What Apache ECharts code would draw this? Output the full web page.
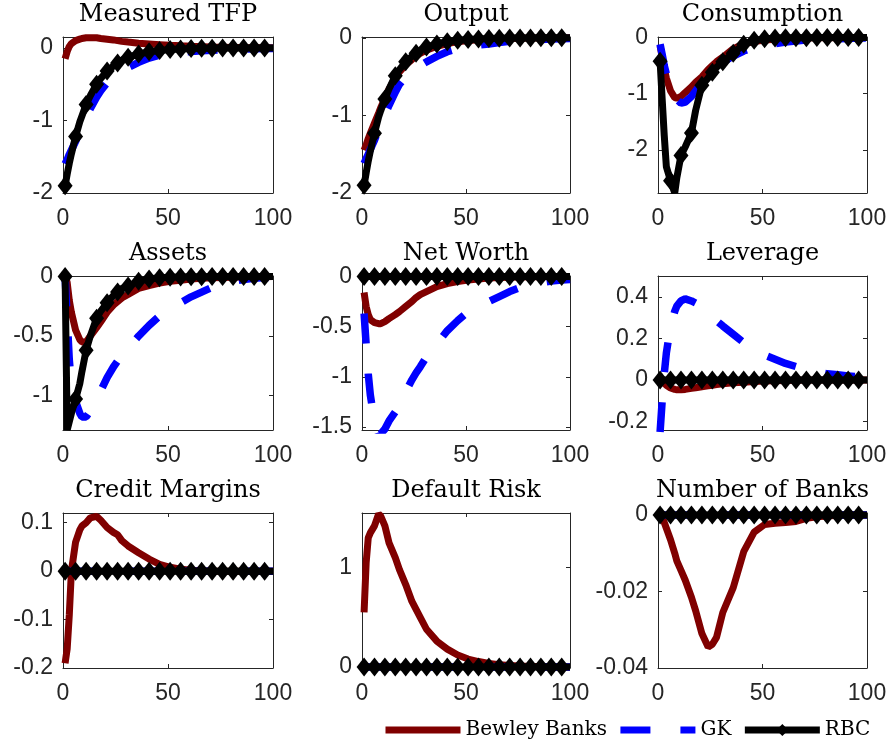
<!DOCTYPE html>
<html>
<head>
<meta charset="utf-8">
<script src="https://cdn.jsdelivr.net/npm/echarts@6/dist/echarts.min.js"></script>
<style>
html, body { margin: 0; padding: 0; background: #fff; }
#irf { width: 891px; height: 742px; }
</style>
</head>
<body>
<div id="irf"></div>
<script>
'use strict'

var periods = [1, 2, 3, 4, 6, 8, 9, 11, 13, 16, 18, 21, 24, 26, 28, 31, 36, 41, 46, 51, 56, 61, 66, 71, 76, 81, 86, 91, 96, 100];
var rbcMarkers = [1, 6, 11, 16, 21, 26, 31, 36, 41, 46, 51, 56, 61, 66, 71, 76, 81, 86, 91, 96];
var xTicks = [0, 50, 100];
var flatZero = [0, 0, 0, 0, 0, 0, 0, 0, 0, 0, 0, 0, 0, 0, 0, 0, 0, 0, 0, 0, 0, 0, 0, 0, 0, 0, 0, 0, 0, 0];

var tfpBewley = [-0.15, -0.05, 0.02, 0.06, 0.10, 0.12, 0.13, 0.14, 0.14, 0.14, 0.13, 0.12, 0.11, 0.10, 0.09, 0.08, 0.065, 0.055, 0.045, 0.035, 0.028, 0.022, 0.017, 0.012, 0.009, 0.006, 0.004, 0.003, 0.002, 0.001];
var tfpGK = [-1.60, -1.54, -1.47, -1.41, -1.29, -1.14, -1.07, -0.95, -0.84, -0.68, -0.59, -0.48, -0.40, -0.36, -0.32, -0.27, -0.20, -0.14, -0.10, -0.075, -0.06, -0.05, -0.04, -0.032, -0.025, -0.02, -0.015, -0.012, -0.01, -0.008];
var tfpRBC = [-1.90, -1.74, -1.59, -1.46, -1.22, -1.02, -0.94, -0.78, -0.66, -0.50, -0.42, -0.32, -0.25, -0.21, -0.17, -0.13, -0.085, -0.055, -0.035, -0.023, -0.015, -0.01, -0.006, -0.004, -0.003, -0.002, -0.001, -0.001, 0, 0];

var outBewley = [-1.45, -1.38, -1.30, -1.23, -1.10, -0.97, -0.90, -0.78, -0.66, -0.52, -0.44, -0.35, -0.28, -0.24, -0.20, -0.16, -0.11, -0.075, -0.05, -0.035, -0.025, -0.018, -0.012, -0.008, -0.006, -0.004, -0.003, -0.002, -0.001, 0];
var outGK = [-1.62, -1.56, -1.50, -1.44, -1.32, -1.18, -1.11, -0.99, -0.87, -0.70, -0.60, -0.50, -0.43, -0.39, -0.36, -0.31, -0.24, -0.18, -0.14, -0.11, -0.095, -0.08, -0.06, -0.045, -0.035, -0.028, -0.022, -0.017, -0.013, -0.01];
var outRBC = [-1.90, -1.74, -1.59, -1.46, -1.23, -1.02, -0.94, -0.79, -0.66, -0.49, -0.41, -0.31, -0.24, -0.20, -0.16, -0.12, -0.08, -0.05, -0.033, -0.022, -0.015, -0.01, -0.006, -0.004, -0.003, -0.002, -0.001, -0.001, 0, 0];

var consBewley = [-0.15, -0.35, -0.55, -0.72, -0.95, -1.07, -1.08, -1.05, -0.98, -0.88, -0.80, -0.70, -0.57, -0.50, -0.43, -0.35, -0.20, -0.11, -0.07, -0.045, -0.03, -0.02, -0.012, -0.008, -0.005, -0.003, -0.002, -0.001, 0, 0];
var consGK = [-0.12, -0.30, -0.50, -0.65, -0.88, -1.05, -1.10, -1.17, -1.15, -1.05, -0.95, -0.80, -0.68, -0.60, -0.53, -0.44, -0.33, -0.24, -0.18, -0.14, -0.11, -0.08, -0.06, -0.045, -0.035, -0.025, -0.02, -0.015, -0.01, -0.008];
var consRBC = [-0.42, -1.10, -1.75, -2.30, -2.55, -2.77, -2.50, -2.10, -1.95, -1.70, -1.30, -0.85, -0.72, -0.62, -0.53, -0.43, -0.28, -0.12, -0.05, -0.02, -0.01, -0.005, -0.003, -0.002, -0.001, 0, 0, 0, 0, 0];

var assetBewley = [0, -0.05, -0.20, -0.30, -0.45, -0.53, -0.55, -0.55, -0.50, -0.43, -0.38, -0.30, -0.24, -0.21, -0.18, -0.15, -0.10, -0.075, -0.055, -0.04, -0.03, -0.02, -0.015, -0.01, -0.007, -0.005, -0.003, -0.002, -0.001, 0];
var assetGK = [0, -0.35, -0.70, -0.90, -1.05, -1.15, -1.18, -1.18, -1.13, -1.02, -0.96, -0.85, -0.76, -0.71, -0.66, -0.60, -0.50, -0.41, -0.33, -0.27, -0.22, -0.17, -0.13, -0.09, -0.06, -0.04, -0.025, -0.015, -0.008, -0.005];
var assetRBC = [0, -1.29, -1.22, -1.15, -1.03, -0.90, -0.80, -0.62, -0.50, -0.35, -0.29, -0.22, -0.16, -0.13, -0.10, -0.08, -0.04, -0.02, -0.01, -0.005, -0.003, -0.002, -0.001, 0, 0, 0, 0, 0, 0, 0];

var nwBewley = [-0.16, -0.30, -0.38, -0.43, -0.46, -0.47, -0.47, -0.45, -0.42, -0.38, -0.35, -0.30, -0.25, -0.21, -0.18, -0.15, -0.10, -0.07, -0.05, -0.035, -0.025, -0.015, -0.01, -0.007, -0.005, -0.003, -0.002, -0.001, 0, 0];
var nwGK = [-0.37, -0.68, -0.97, -1.18, -1.45, -1.57, -1.57, -1.52, -1.44, -1.35, -1.28, -1.15, -1.03, -0.96, -0.90, -0.80, -0.67, -0.54, -0.44, -0.35, -0.29, -0.25, -0.20, -0.15, -0.11, -0.08, -0.06, -0.045, -0.035, -0.03];

var levBewley = [0.01, 0, -0.015, -0.025, -0.038, -0.045, -0.047, -0.047, -0.045, -0.04, -0.037, -0.032, -0.028, -0.025, -0.022, -0.018, -0.013, -0.01, -0.007, -0.005, -0.003, -0.002, -0.001, 0, 0, 0, 0, 0, 0, 0];
var levGK = [-0.25, -0.10, 0.03, 0.13, 0.26, 0.33, 0.355, 0.38, 0.39, 0.38, 0.37, 0.345, 0.32, 0.30, 0.285, 0.26, 0.22, 0.18, 0.15, 0.12, 0.10, 0.08, 0.065, 0.05, 0.04, 0.03, 0.025, 0.02, 0.015, 0.012];

var cmBewley = [-0.19, -0.16, -0.09, 0, 0.06, 0.085, 0.093, 0.10, 0.11, 0.113, 0.105, 0.09, 0.08, 0.075, 0.063, 0.052, 0.038, 0.025, 0.014, 0.008, 0.004, 0.002, 0.001, 0, 0, 0, 0, 0, 0, 0];
var drBewley = [0.55, 1.05, 1.30, 1.35, 1.42, 1.54, 1.52, 1.42, 1.25, 1.10, 0.98, 0.83, 0.66, 0.58, 0.50, 0.38, 0.26, 0.18, 0.12, 0.08, 0.055, 0.035, 0.022, 0.015, 0.01, 0.006, 0.004, 0.002, 0.001, 0];
var nbBewley = [0, -0.0005, -0.002, -0.0035, -0.0065, -0.01, -0.012, -0.0145, -0.017, -0.0215, -0.025, -0.031, -0.0345, -0.0338, -0.032, -0.0255, -0.019, -0.0096, -0.0045, -0.0025, -0.0022, -0.002, -0.0017, -0.0009, -0.0005, -0.0003, -0.0001, 0, 0, 0];

var panelTitles = ['Measured TFP', 'Output', 'Consumption', 'Assets', 'Net Worth', 'Leverage', 'Credit Margins', 'Default Risk', 'Number of Banks'];
var bewleyLines = [tfpBewley, outBewley, consBewley, assetBewley, nwBewley, levBewley, cmBewley, drBewley, nbBewley];
var gkLines = [tfpGK, outGK, consGK, assetGK, nwGK, levGK, flatZero, flatZero, flatZero];
var rbcLines = [tfpRBC, outRBC, consRBC, assetRBC, flatZero, flatZero, flatZero, flatZero, flatZero];
var yMins = [-2, -2, -2.77, -1.29, -1.53, -0.24, -0.2, -0.01, -0.04];
var yMaxs = [0.15, 0.01, 0.01, 0.005, 0.005, 0.5, 0.12, 1.55, 0.0005];
var yTicks = [
    [-2, -1, 0],
    [-2, -1, 0],
    [-2, -1, 0],
    [-1, -0.5, 0],
    [-1.5, -1, -0.5, 0],
    [-0.2, 0, 0.2, 0.4],
    [-0.2, -0.1, 0, 0.1],
    [0, 1],
    [-0.04, -0.02, 0]
];

// layout of the 3x3 panel grid (pixels)
var colLeft = [63, 362, 658];
var colWidth = [210, 208, 209];
var rowTop = [37, 276, 513];
var rowHeight = [156, 154, 155];

var axisColor = '#262626';
var tickFont = 'Liberation Sans';
var titleFont = 'DejaVu Serif';

function toPoints(vals) {
    return periods.map(function (t, i) { return [t, vals[i]]; });
}

function toMarkedPoints(vals) {
    return periods.map(function (t, i) {
        return { value: [t, vals[i]], symbol: rbcMarkers.indexOf(t) >= 0 ? 'diamond' : 'none' };
    });
}

function boxAxis(extra) {
    var a = {
        type: 'value',
        splitLine: { show: false },
        axisLine: { show: true, onZero: false, lineStyle: { color: axisColor, width: 1 } },
        axisTick: { show: true, inside: true, length: 4, lineStyle: { color: axisColor, width: 1 } },
        axisLabel: { show: false }
    };
    return Object.assign(a, extra);
}

var grids = [], xAxes = [], yAxes = [], series = [], titles = [];

panelTitles.forEach(function (name, i) {
    var col = i % 3, row = Math.floor(i / 3);
    grids.push({ left: colLeft[col], top: rowTop[row], width: colWidth[col], height: rowHeight[row] });

    titles.push({
        text: name,
        left: colLeft[col] + colWidth[col] / 2,
        top: rowTop[row] - 34,
        textAlign: 'center',
        padding: 0,
        textStyle: { fontFamily: titleFont, fontSize: 24, fontWeight: 'normal', color: '#000', lineHeight: 24 }
    });

    var xb = boxAxis({ gridIndex: i, min: 0, max: 100, position: 'bottom' });
    xb.axisTick.customValues = xTicks;
    xb.axisLabel = { show: true, customValues: xTicks, margin: 14, color: axisColor, fontFamily: tickFont, fontSize: 23 };
    var xt = boxAxis({ gridIndex: i, min: 0, max: 100, position: 'top' });
    xt.axisTick.customValues = xTicks;
    xAxes.push(xb, xt);

    var yl = boxAxis({ gridIndex: i, min: yMins[i], max: yMaxs[i], position: 'left' });
    yl.axisTick.customValues = yTicks[i];
    yl.axisLabel = {
        show: true, customValues: yTicks[i], margin: 10, color: axisColor, fontFamily: tickFont, fontSize: 23,
        formatter: function (v) { return String(v); }
    };
    var yr = boxAxis({ gridIndex: i, min: yMins[i], max: yMaxs[i], position: 'right' });
    yr.axisTick.customValues = yTicks[i];
    yAxes.push(yl, yr);

    series.push({
        name: 'Bewley Banks', type: 'line', xAxisIndex: 2 * i, yAxisIndex: 2 * i,
        data: toPoints(bewleyLines[i]), symbol: 'none', showSymbol: false,
        lineStyle: { color: '#800000', width: 7 }, itemStyle: { color: '#800000' }
    });
    series.push({
        name: 'GK', type: 'line', xAxisIndex: 2 * i, yAxisIndex: 2 * i,
        data: toPoints(gkLines[i]), symbol: 'none', showSymbol: false,
        lineStyle: { color: '#0000ff', width: 7.5, type: [30, 30] }, itemStyle: { color: '#0000ff' }
    });
    series.push({
        name: 'RBC', type: 'line', xAxisIndex: 2 * i, yAxisIndex: 2 * i,
        data: toMarkedPoints(rbcLines[i]), symbol: 'diamond', symbolSize: [15, 19],
        lineStyle: { color: '#000', width: 7 }, itemStyle: { color: '#000' }
    });
});

var irf_chart = echarts.init(document.getElementById('irf'));

var option = {
    animation: false,
    backgroundColor: '#fff',
    title: titles,
    grid: grids,
    xAxis: xAxes,
    yAxis: yAxes,
    legend: {
        data: [
            { name: 'Bewley Banks', itemStyle: { opacity: 0 } },
            { name: 'GK', itemStyle: { opacity: 0 } },
            { name: 'RBC' }
        ],
        left: 382,
        top: 720,
        padding: 0,
        itemWidth: 75,
        itemHeight: 15,
        itemGap: 10,
        selectedMode: false,
        lineStyle: { width: 7 },
        textStyle: { fontFamily: titleFont, fontSize: 20, color: '#000' }
    },
    series: series
};

irf_chart.setOption(option);
</script>
</body>
</html>
